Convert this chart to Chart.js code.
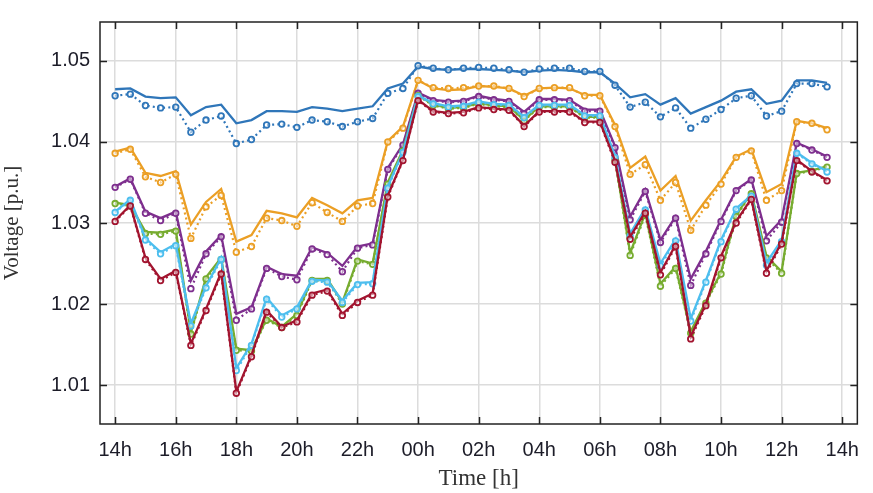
<!DOCTYPE html>
<html>
<head>
<meta charset="utf-8">
<script src="https://cdn.jsdelivr.net/npm/chart.js@4.4.1/dist/chart.umd.min.js"></script>
<style>
  html, body { margin: 0; padding: 0; background: #ffffff; }
  #wrap { width: 873px; height: 493px; }
</style>
</head>
<body>
<div id="wrap"><canvas id="chart" width="873" height="493"></canvas></div>
<script>
// Half-hour samples, counted in hours from 14:00 through 13:30 next day
const hoursFrom14 = [0,0.5,1,1.5,2,2.5,3,3.5,4,4.5,5,5.5,6,6.5,7,7.5,8,8.5,9,9.5,10,10.5,11,11.5,
                     12,12.5,13,13.5,14,14.5,15,15.5,16,16.5,17,17.5,18,18.5,19,19.5,20,20.5,21,21.5,22,22.5,23,23.5];

const xTickPositions = [0,2,4,6,8,10,12,14,16,18,20,22,24];
const xTickLabels = ['14h','16h','18h','20h','22h','00h','02h','04h','06h','08h','10h','12h','14h'];
const yTickValues = [1.01,1.02,1.03,1.04,1.05];

// Voltage profiles [p.u.] — solid and dotted variants per node
const blueSolid = [1.0465,1.0466,1.0456,1.0454,1.0455,1.0433,1.0443,1.0446,1.0423,1.0427,1.0438,1.0438,1.0437,1.0443,1.0441,1.0438,1.0441,1.0444,1.0466,1.0472,1.0493,1.0490,1.0489,1.0490,
                   1.0490,1.0489,1.0488,1.0486,1.0488,1.0489,1.0488,1.0486,1.0486,1.0472,1.0455,1.0459,1.0446,1.0454,1.0435,1.0443,1.0451,1.0462,1.0465,1.0447,1.0451,1.0476,1.0476,1.0473];
const blueDotted = [1.0457,1.0459,1.0445,1.0442,1.0443,1.0412,1.0427,1.0432,1.0398,1.0403,1.0421,1.0422,1.0418,1.0427,1.0425,1.0419,1.0425,1.0429,1.0460,1.0466,1.0494,1.0491,1.0489,1.0491,
                    1.0492,1.0491,1.0489,1.0486,1.0490,1.0491,1.0491,1.0487,1.0487,1.0470,1.0443,1.0449,1.0431,1.0442,1.0417,1.0428,1.0440,1.0454,1.0457,1.0432,1.0438,1.0472,1.0472,1.0468];

const orangeSolid = [1.0388,1.0393,1.0362,1.0358,1.0364,1.0298,1.0326,1.0342,1.0277,1.0285,1.0315,1.0312,1.0307,1.0331,1.0322,1.0312,1.0328,1.0331,1.0401,1.0419,1.0476,1.0466,1.0464,1.0465,
                     1.0469,1.0468,1.0466,1.0457,1.0466,1.0467,1.0466,1.0458,1.0458,1.0421,1.0368,1.0382,1.0340,1.0358,1.0303,1.0328,1.0352,1.0382,1.0391,1.0338,1.0348,1.0426,1.0423,1.0417];
const orangeDotted = [1.0386,1.0391,1.0357,1.0350,1.0360,1.0281,1.0320,1.0334,1.0264,1.0271,1.0306,1.0303,1.0296,1.0325,1.0313,1.0302,1.0321,1.0324,1.0400,1.0417,1.0476,1.0467,1.0466,1.0467,
                      1.0469,1.0469,1.0466,1.0456,1.0466,1.0467,1.0467,1.0457,1.0457,1.0419,1.0360,1.0372,1.0328,1.0350,1.0291,1.0322,1.0348,1.0381,1.0389,1.0328,1.0340,1.0425,1.0423,1.0415];

const purpleSolid = [1.0345,1.0355,1.0314,1.0306,1.0314,1.0229,1.0265,1.0285,1.0188,1.0196,1.0246,1.0237,1.0235,1.0270,1.0263,1.0247,1.0271,1.0275,1.0368,1.0397,1.0461,1.0452,1.0450,1.0451,
                     1.0457,1.0453,1.0451,1.0437,1.0453,1.0453,1.0452,1.0440,1.0440,1.0395,1.0308,1.0341,1.0279,1.0308,1.0231,1.0265,1.0304,1.0341,1.0354,1.0284,1.0304,1.0399,1.0391,1.0382];
const purpleDotted = [1.0344,1.0354,1.0312,1.0303,1.0312,1.0219,1.0262,1.0283,1.0180,1.0194,1.0244,1.0234,1.0230,1.0268,1.0261,1.0240,1.0269,1.0273,1.0366,1.0396,1.0460,1.0451,1.0449,1.0450,
                      1.0456,1.0452,1.0450,1.0435,1.0452,1.0452,1.0451,1.0438,1.0438,1.0393,1.0304,1.0339,1.0276,1.0306,1.0223,1.0262,1.0302,1.0340,1.0353,1.0278,1.0301,1.0398,1.0390,1.0381];

const greenSolid = [1.0325,1.0322,1.0289,1.0288,1.0292,1.0165,1.0233,1.0257,1.0145,1.0143,1.0182,1.0172,1.0188,1.0231,1.0231,1.0202,1.0255,1.0250,1.0350,1.0390,1.0458,1.0446,1.0442,1.0443,
                    1.0448,1.0445,1.0444,1.0427,1.0444,1.0444,1.0444,1.0431,1.0431,1.0380,1.0263,1.0312,1.0225,1.0246,1.0166,1.0203,1.0239,1.0310,1.0337,1.0259,1.0240,1.0362,1.0365,1.0370];
const greenDotted = [1.0324,1.0321,1.0287,1.0286,1.0290,1.0163,1.0231,1.0255,1.0143,1.0142,1.0180,1.0171,1.0186,1.0229,1.0229,1.0200,1.0253,1.0249,1.0348,1.0389,1.0457,1.0445,1.0441,1.0442,
                     1.0447,1.0444,1.0443,1.0426,1.0443,1.0443,1.0443,1.0430,1.0430,1.0378,1.0260,1.0310,1.0222,1.0244,1.0164,1.0201,1.0237,1.0308,1.0336,1.0257,1.0238,1.0361,1.0364,1.0369];

const cyanSolid = [1.0314,1.0329,1.0281,1.0264,1.0274,1.0176,1.0222,1.0257,1.0121,1.0151,1.0208,1.0186,1.0196,1.0230,1.0229,1.0204,1.0226,1.0227,1.0345,1.0388,1.0457,1.0448,1.0444,1.0445,
                   1.0450,1.0447,1.0446,1.0431,1.0446,1.0446,1.0446,1.0433,1.0433,1.0383,1.0287,1.0318,1.0250,1.0280,1.0182,1.0229,1.0279,1.0318,1.0334,1.0251,1.0279,1.0387,1.0374,1.0364];
const cyanDotted = [1.0313,1.0328,1.0279,1.0262,1.0272,1.0173,1.0220,1.0255,1.0118,1.0149,1.0206,1.0184,1.0194,1.0228,1.0227,1.0202,1.0224,1.0225,1.0343,1.0387,1.0456,1.0447,1.0443,1.0444,
                    1.0449,1.0446,1.0445,1.0430,1.0445,1.0445,1.0445,1.0432,1.0432,1.0381,1.0284,1.0316,1.0247,1.0278,1.0179,1.0227,1.0277,1.0317,1.0333,1.0248,1.0277,1.0386,1.0373,1.0363];

const redSolid = [1.0303,1.0322,1.0257,1.0231,1.0241,1.0151,1.0194,1.0239,1.0092,1.0137,1.0192,1.0172,1.0180,1.0213,1.0218,1.0188,1.0204,1.0213,1.0334,1.0378,1.0452,1.0438,1.0436,1.0437,
                  1.0443,1.0441,1.0440,1.0420,1.0438,1.0438,1.0438,1.0425,1.0425,1.0377,1.0283,1.0314,1.0239,1.0273,1.0160,1.0200,1.0259,1.0302,1.0330,1.0241,1.0276,1.0378,1.0364,1.0353];
const redDotted = [1.0302,1.0321,1.0255,1.0229,1.0239,1.0149,1.0192,1.0237,1.0090,1.0135,1.0190,1.0171,1.0178,1.0211,1.0216,1.0186,1.0202,1.0211,1.0332,1.0377,1.0451,1.0437,1.0435,1.0436,
                   1.0442,1.0440,1.0439,1.0419,1.0437,1.0437,1.0437,1.0424,1.0424,1.0375,1.0280,1.0312,1.0236,1.0271,1.0157,1.0198,1.0257,1.0300,1.0329,1.0238,1.0274,1.0377,1.0363,1.0352];

const nodes = [
  { color: '#2f76b9', solid: blueSolid,   dotted: blueDotted },
  { color: '#eb9f25', solid: orangeSolid, dotted: orangeDotted },
  { color: '#7e2f8e', solid: purpleSolid, dotted: purpleDotted },
  { color: '#77ac30', solid: greenSolid,  dotted: greenDotted },
  { color: '#4dbeee', solid: cyanSolid,   dotted: cyanDotted },
  { color: '#a2142f', solid: redSolid,    dotted: redDotted }
];

const toPoints = vals => vals.map((v, i) => ({ x: hoursFrom14[i], y: v }));

const datasets = [];
nodes.forEach((n, k) => {
  datasets.push({
    data: toPoints(n.solid),
    borderColor: n.color,
    borderWidth: 2.3,
    pointRadius: 0,
    tension: 0,
    order: 20 - 2 * k
  });
  datasets.push({
    data: toPoints(n.dotted),
    borderColor: n.color,
    borderWidth: 2.2,
    borderDash: [2, 3.2],
    pointRadius: 2.8,
    pointBorderWidth: 1.8,
    pointBorderColor: n.color,
    pointBackgroundColor: 'rgba(255,255,255,0.5)',
    tension: 0,
    order: 19 - 2 * k
  });
});

// Box frame with inward ticks on all four sides
const framePlugin = {
  id: 'frame',
  afterDraw(chart) {
    const { ctx, chartArea: a, scales: { x, y } } = chart;
    ctx.save();
    ctx.strokeStyle = '#222222';
    ctx.lineWidth = 1.5;
    ctx.strokeRect(a.left, a.top, a.right - a.left, a.bottom - a.top);
    const len = 7;
    ctx.beginPath();
    x.ticks.forEach(t => {
      const px = Math.round(x.getPixelForValue(t.value)) + 0.5;
      ctx.moveTo(px, a.bottom); ctx.lineTo(px, a.bottom - len);
      ctx.moveTo(px, a.top); ctx.lineTo(px, a.top + len);
    });
    y.ticks.forEach(t => {
      const py = Math.round(y.getPixelForValue(t.value)) + 0.5;
      ctx.moveTo(a.left, py); ctx.lineTo(a.left + len, py);
      ctx.moveTo(a.right, py); ctx.lineTo(a.right - len, py);
    });
    ctx.stroke();
    ctx.restore();
  }
};

new Chart(document.getElementById('chart'), {
  type: 'line',
  data: { datasets },
  plugins: [framePlugin],
  options: {
    responsive: false,
    animation: false,
    devicePixelRatio: 1,
    layout: { padding: { top: 14, right: 4, left: 0, bottom: 0 } },
    plugins: { legend: { display: false }, tooltip: { enabled: false } },
    scales: {
      x: {
        type: 'linear',
        min: -0.5,
        max: 24.5,
        afterBuildTicks: s => { s.ticks = xTickPositions.map(v => ({ value: v })); },
        afterFit: s => { s.height = 69; },
        ticks: {
          autoSkip: false,
          maxRotation: 0,
          padding: 14,
          color: '#1c1c28',
          font: { family: 'Liberation Sans, Arial, sans-serif', size: 20 },
          callback: v => xTickLabels[xTickPositions.indexOf(v)]
        },
        grid: { color: '#dcdcdc', lineWidth: 1.5, drawTicks: false },
        border: { display: false },
        title: {
          display: true,
          text: 'Time [h]',
          color: '#333333',
          font: { family: 'Liberation Serif, Times New Roman, serif', size: 23 },
          padding: { top: 0, bottom: 0 }
        }
      },
      y: {
        type: 'linear',
        min: 1.0052,
        max: 1.0548,
        afterBuildTicks: s => { s.ticks = yTickValues.map(v => ({ value: v })); },
        afterFit: s => { s.width = 100; },
        ticks: {
          padding: 10,
          color: '#1c1c28',
          font: { family: 'Liberation Sans, Arial, sans-serif', size: 20 },
          callback: v => v.toFixed(2)
        },
        grid: { color: '#dcdcdc', lineWidth: 1.5, drawTicks: false },
        border: { display: false },
        title: {
          display: true,
          text: 'Voltage [p.u.]',
          color: '#333333',
          font: { family: 'Liberation Serif, Times New Roman, serif', size: 21 },
          padding: { top: 0, bottom: 4 }
        }
      }
    }
  }
});
</script>
</body>
</html>
